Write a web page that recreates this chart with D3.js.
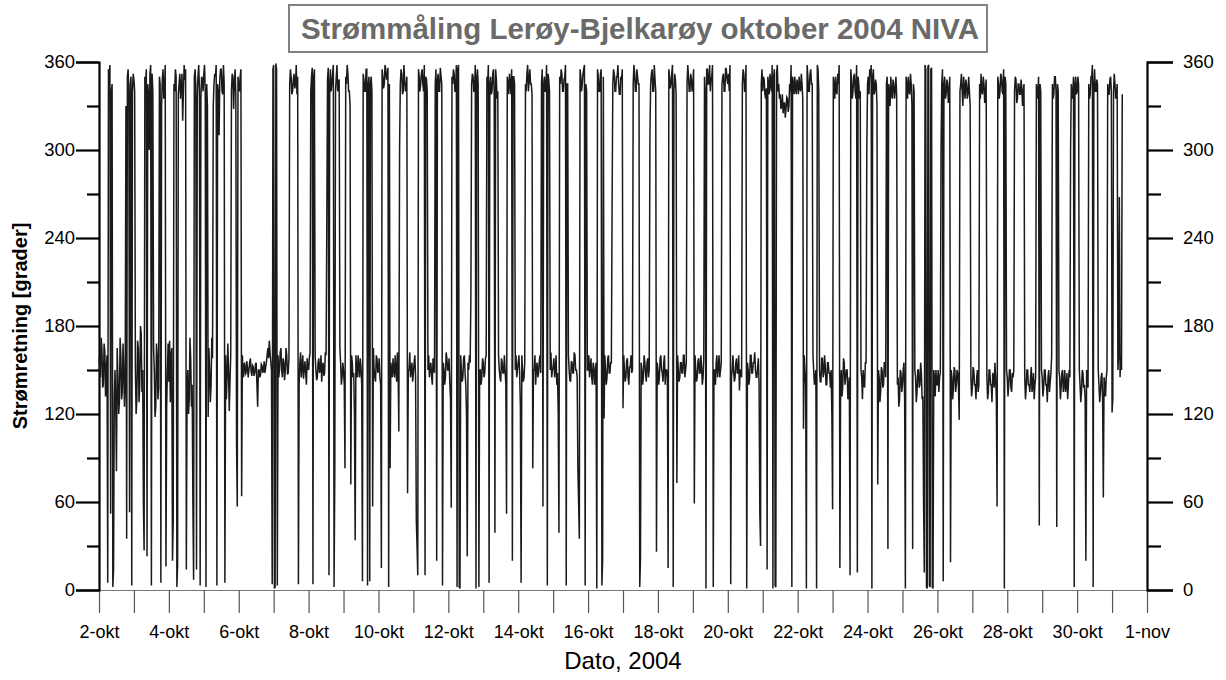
<!DOCTYPE html>
<html><head><meta charset="utf-8">
<script src="https://cdn.jsdelivr.net/npm/d3@7"></script>
<style>
body{margin:0;background:#fff}
svg{display:block}
text{font-family:Arial,"Liberation Sans",Helvetica,sans-serif}
</style>
</head><body>
<svg id="c" width="1226" height="680"></svg>
<script>
// ---- DATA: half-hourly current direction (degrees), one array per day, starting 2-okt 00:00 ----
const oct02=[158,150,145,172,165,138,140,168,162,132,150,160,5,355,350,358,52,340,345,2,14,130,150,125,81,165,145,120,128,172,160,130,135,168,150,125,142,330,35,350,355,338,53,345,350,3,340,352];
const oct03=[348,340,150,120,130,170,165,128,140,180,175,135,150,60,27,350,345,355,23,345,338,300,352,358,3,352,340,165,150,118,125,168,160,130,138,350,345,5,330,348,355,335,340,358,16,125,150,168];
const oct04=[142,170,128,160,165,20,48,345,340,355,350,2,17,338,345,352,335,345,352,320,340,358,348,355,14,135,150,120,130,172,158,125,140,60,7,350,355,345,14,335,350,358,342,3,335,350,348,340];
const oct05=[352,358,340,2,345,330,118,165,150,128,140,172,158,330,345,352,350,358,3,345,340,310,348,355,355,340,338,358,345,5,160,130,145,168,150,122,142,160,340,352,350,328,345,355,338,100,57,350];
const oct06=[345,340,350,355,64,160,145,152,155,147,148,156,152,145,150,155,158,149,146,153,152,146,148,154,155,140,125,150,150,145,147,154,153,148,150,156,148,152,155,160,165,158,170,162,156,150,4,355];
const oct07=[358,1,2,359,355,3,160,145,150,162,165,150,145,158,155,143,150,165,160,147,148,158,345,355,350,338,340,348,352,342,345,358,338,350,4,140,155,162,145,152,160,144,150,156,148,140,158,152];
const oct08=[150,158,162,340,350,356,4,350,355,160,150,143,145,155,158,148,150,160,142,152,155,146,148,162,160,250,348,356,10,345,355,340,345,352,358,2,80,340,350,358,340,347,348,165,155,140,145,155];
const oct09=[150,140,83,350,345,358,352,340,340,330,72,160,155,145,148,120,34,160,150,145,160,152,145,158,152,140,6,352,348,340,340,355,355,3,345,350,6,345,350,340,57,165,150,145,142,160,158,148];
const oct10=[150,158,145,140,15,355,350,342,345,358,355,348,350,356,2,345,83,155,150,145,158,150,145,160,150,142,162,150,108,300,345,355,352,338,340,358,348,340,342,350,66,150,150,162,145,150,155,142];
const oct11=[148,155,160,145,48,30,10,355,350,340,345,352,355,345,340,358,10,350,348,340,150,160,145,152,155,146,140,158,152,148,345,355,20,348,352,340,340,356,350,345,3,155,150,140,145,162,158,150];
const oct12=[150,158,142,130,56,350,345,355,352,340,340,358,2,355,358,2,1,160,150,142,145,158,160,148,140,120,23,155,150,160,155,200,345,352,350,340,340,358,1,350,355,345,2,150,150,140,145,158];
const oct13=[155,145,148,158,160,350,345,358,5,345,350,338,340,352,355,340,39,355,348,335,340,160,150,145,142,158,155,148,148,160,150,140,52,350,345,338,352,345,338,355,20,350,350,345,150,160,145,150];
const oct14=[155,160,148,125,5,160,150,142,145,155,345,340,352,358,340,348,355,345,345,338,83,150,150,160,140,152,155,145,148,156,160,148,345,355,57,345,350,340,340,358,3,352,348,340,150,162,145,150];
const oct15=[152,158,145,150,160,140,148,120,39,350,345,355,352,340,340,348,350,358,3,345,345,160,150,143,142,156,155,148,148,162,160,150,150,145,83,60,35,355,350,340,345,352,355,358,3,345,340,150];
const oct16=[150,160,145,152,158,145,140,155,152,140,148,155,1,355,350,340,340,352,355,3,20,350,117,160,150,140,145,158,160,148,148,155,155,260,345,355,352,340,340,350,350,358,345,338,338,350,348,355];
const oct17=[124,160,150,142,145,156,158,145,140,152,152,160,148,150,345,358,352,340,340,355,350,345,345,2,21,155,150,140,145,160,155,148,142,155,158,145,150,310,345,352,355,340,340,358,348,340,26,155];
const oct18=[150,140,145,158,160,150,148,142,155,160,140,150,150,145,15,355,350,342,345,352,358,2,340,352,348,338,73,160,150,142,145,155,155,148,148,160,160,145,150,155,345,358,350,340,340,352,348,340];
const oct19=[345,355,59,160,150,142,145,156,158,148,148,160,152,140,145,158,350,340,1,355,355,345,345,358,340,348,350,358,2,150,150,140,155,160,145,152,160,145,150,155,345,350,352,340,340,356,355,348];
const oct20=[345,352,340,358,4,145,150,160,150,142,145,155,158,148,148,160,136,150,150,145,345,355,352,340,340,358,1,155,150,140,145,160,160,148,148,155,155,162,150,145,145,152,158,140,52,30,345,355];
const oct21=[340,350,348,338,335,342,14,350,345,338,352,345,340,358,1,350,355,3,2,352,358,340,345,335,338,328,330,338,325,332,332,322,328,336,335,326,330,345,340,358,2,350,345,338,350,342,338,348];
const oct22=[345,338,350,342,340,352,345,335,110,160,150,140,1,358,350,340,340,352,355,345,345,160,150,140,145,150,1,358,355,340,150,142,142,158,158,145,148,160,152,140,140,155,155,148,148,138,150,120];
const oct23=[55,350,345,335,350,340,338,352,345,358,15,140,150,132,140,158,155,140,145,150,150,130,138,145,10,355,348,335,340,350,352,340,335,358,12,350,345,335,340,150,145,130,150,140,138,155,155,300];
const oct24=[345,350,338,355,350,358,1,350,355,338,340,348,345,330,72,150,145,128,135,152,150,138,140,155,155,145,345,350,28,345,340,330,350,338,335,348,345,335,340,350,338,140,145,125,130,150,148,135];
const oct25=[140,150,155,130,1,350,345,335,350,340,338,352,345,330,28,345,340,150,145,128,135,150,150,138,140,155,148,130,132,60,12,358,355,2,1,357,358,3,2,355,356,2,1,150,145,132,150,140];
const oct26=[140,150,135,145,148,300,345,355,6,345,350,335,338,348,345,332,340,350,19,150,145,130,138,152,150,135,140,150,148,138,116,340,345,352,340,330,350,342,335,348,345,335,338,350,340,330,145,132];
const oct27=[138,152,150,140,140,130,145,150,135,140,345,335,352,340,338,350,345,332,340,348,145,130,135,150,150,140,140,128,148,145,138,155,145,130,57,350,345,335,340,352,350,340,338,355,1,350,345,150];
const oct28=[145,132,140,150,150,138,135,148,145,150,340,350,348,332,335,345,345,338,338,348,342,330,340,345,145,130,138,150,150,140,140,135,145,152,135,140,148,130,140,145,345,340,335,350,44,345,340,150];
const oct29=[145,132,138,150,150,140,140,128,145,150,135,142,148,160,345,335,338,350,350,340,43,345,340,150,145,130,138,148,150,135,140,150,135,140,148,130,140,150,145,300,345,335,338,350,2,345,350,338];
const oct30=[340,350,345,150,140,128,135,150,148,138,140,130,20,150,145,138,345,335,338,350,350,358,2,345,355,340,340,348,345,150,140,128,135,145,148,130,63,145,140,132,145,150,345,338,338,348,350,340];
const oct31=[121,130,340,352,345,335,338,345,150,160,268,145,160,150,338];

const xTickLabels=["2-okt","4-okt","6-okt","8-okt","10-okt","12-okt","14-okt","16-okt","18-okt","20-okt","22-okt","24-okt","26-okt","28-okt","30-okt","1-nov"];
const yMajorTicks=[0,60,120,180,240,300,360];
const yMinorTicks=[30,90,150,210,270,330];
const titleText="Strømmåling Lerøy-Bjelkarøy oktober 2004 NIVA";
const xTitle="Dato, 2004";
const yTitle="Strømretning [grader]";

// ---- build series (30-minute sampling) ----
const days=[oct02,oct03,oct04,oct05,oct06,oct07,oct08,oct09,oct10,oct11,oct12,oct13,oct14,oct15,oct16,oct17,oct18,oct19,oct20,oct21,oct22,oct23,oct24,oct25,oct26,oct27,oct28,oct29,oct30,oct31];
const t0=new Date(2004,9,2,0,0).getTime();
const series=days.flat().map((v,i)=>({t:new Date(t0+i*1800e3),v}));

const svg=d3.select("#c");
const x=d3.scaleTime().domain([new Date(2004,9,2),new Date(2004,10,1)]).range([99,1147]);
const y=d3.scaleLinear().domain([0,360]).range([590,62]);

// title box
svg.append("rect").attr("x",289).attr("y",5).attr("width",698).attr("height",47)
  .attr("fill","#fff").attr("stroke","#808080").attr("stroke-width",2);
svg.append("text").attr("x",640).attr("y",39).attr("text-anchor","middle")
  .attr("font-size",29.5).attr("font-weight","bold").attr("fill","#6a6a6a").text(titleText);

// bottom axis
const dayTicks=d3.timeDay.range(new Date(2004,9,2),new Date(2004,10,2));
const gx=svg.append("g").attr("transform","translate(0,590)")
  .call(d3.axisBottom(x).tickValues(dayTicks).tickSize(23).tickSizeOuter(0).tickPadding(12)
    .tickFormat((d,i)=> i%2===0 ? xTickLabels[i/2] : ""));
gx.select(".domain").attr("stroke","#777").attr("stroke-width",1.2);
gx.selectAll(".tick line").attr("stroke","#555").attr("stroke-width",1.2);
gx.selectAll(".tick text").attr("font-size",18).attr("fill","#000").attr("font-family","Arial, 'Liberation Sans', sans-serif");

// left axis
const allY=yMajorTicks.concat(yMinorTicks).sort((a,b)=>a-b);
const gl=svg.append("g").attr("transform","translate(99,0)")
  .call(d3.axisLeft(y).tickValues(allY).tickSizeOuter(0).tickSize(23).tickPadding(1)
    .tickFormat(d=> yMajorTicks.includes(d)? String(d):""));
gl.select(".domain").attr("stroke","#000").attr("stroke-width",2.2);
gl.selectAll(".tick line").attr("stroke","#000").attr("stroke-width",2.2)
  .attr("x2",d=> yMajorTicks.includes(d)? -23 : -12);
gl.selectAll(".tick text").attr("font-size",18.5).attr("fill","#000").attr("font-family","Arial, 'Liberation Sans', sans-serif");

// right axis
const gr=svg.append("g").attr("transform","translate(1147,0)")
  .call(d3.axisRight(y).tickValues(allY).tickSizeOuter(0).tickSize(26).tickPadding(10)
    .tickFormat(d=> yMajorTicks.includes(d)? String(d):""));
gr.select(".domain").attr("stroke","#000").attr("stroke-width",2.2);
gr.selectAll(".tick line").attr("stroke","#000").attr("stroke-width",2.2)
  .attr("x2",d=> yMajorTicks.includes(d)? 26 : 14);
gr.selectAll(".tick text").attr("font-size",18.5).attr("fill","#000").attr("font-family","Arial, 'Liberation Sans', sans-serif");

// data line
const line=d3.line().x(d=>x(d.t)).y(d=>y(d.v));
svg.append("path").datum(series).attr("d",line)
  .attr("fill","none").attr("stroke","#1a1a1a").attr("stroke-width",1.5).attr("stroke-linejoin","miter");

// axis titles
svg.append("text").attr("x",623).attr("y",669).attr("text-anchor","middle")
  .attr("font-size",24).attr("fill","#000").text(xTitle);
svg.append("text").attr("transform","translate(27,326) rotate(-90)").attr("text-anchor","middle")
  .attr("font-size",20).attr("font-weight","bold").attr("fill","#000").text(yTitle);
</script>
</body></html>
